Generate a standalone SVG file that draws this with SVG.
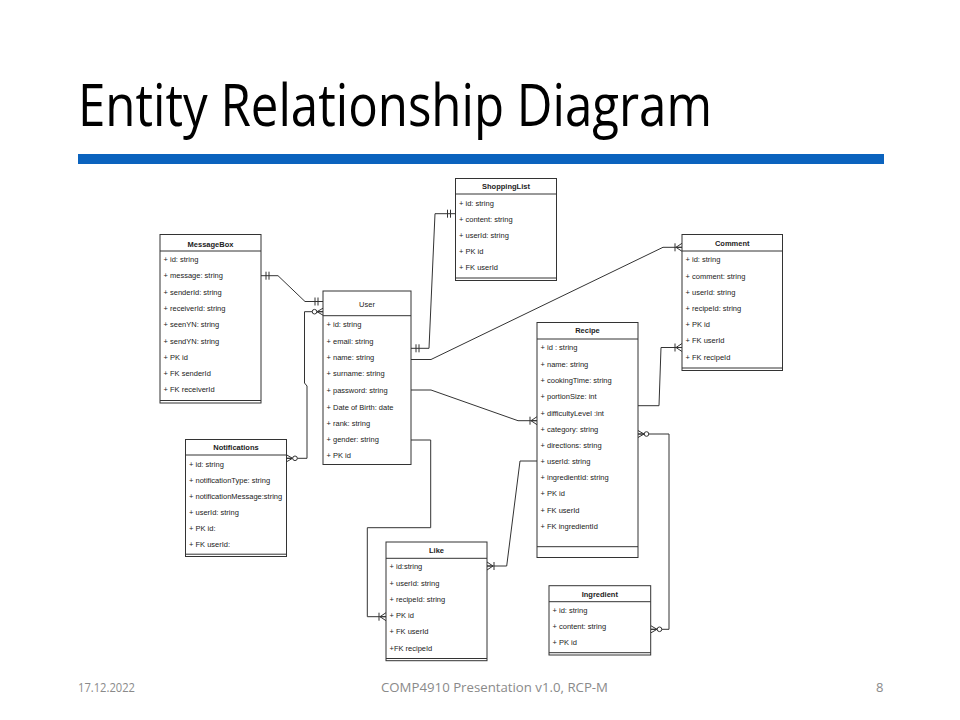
<svg xmlns="http://www.w3.org/2000/svg" width="960" height="720" viewBox="0 0 960 720">
  <style>
    .box { fill: #ffffff; stroke: #333333; stroke-width: 1; }
    .sep { stroke: #333333; stroke-width: 1; fill: none; }
    .ttl { font-family: "Liberation Sans", Arial, sans-serif; font-size: 7.5px; font-weight: bold; fill: #222222; text-anchor: middle; }
    .ttn { font-family: "Liberation Sans", Arial, sans-serif; font-size: 7.5px; fill: #222222; text-anchor: middle; }
    .row { font-family: "Liberation Sans", Arial, sans-serif; font-size: 7.5px; fill: #222222; }
    .edge { fill: none; stroke: #333333; stroke-width: 1; }
    .mk { fill: none; stroke: #333333; stroke-width: 1; }
    .head { font-family: "Open Sans", "Liberation Sans", sans-serif; font-size: 58px; fill: #000000; }
    .foot { font-family: "Open Sans", "Liberation Sans", sans-serif; font-size: 13px; fill: #8a8a8a; }
  </style>
  <defs>
    <!-- mandatory one: two bars -->
    <marker id="mandOne" viewBox="-14 -6 16 12" refX="0" refY="0" markerWidth="16" markerHeight="12" markerUnits="userSpaceOnUse" orient="auto-start-reverse" overflow="visible">
      <path class="mk" d="M-5 -4 V4 M-8 -4 V4"/>
    </marker>
    <!-- one to many: bar + crow's foot -->
    <marker id="oneMany" viewBox="-14 -6 16 12" refX="0" refY="0" markerWidth="16" markerHeight="12" markerUnits="userSpaceOnUse" orient="auto-start-reverse" overflow="visible">
      <path class="mk" d="M0 -4 L-6 0 L0 4 M-6 0 H0 M-7 -4 V4"/>
    </marker>
    <!-- zero to many: circle + crow's foot -->
    <marker id="zeroMany" viewBox="-14 -6 16 12" refX="0" refY="0" markerWidth="16" markerHeight="12" markerUnits="userSpaceOnUse" orient="auto-start-reverse" overflow="visible">
      <path class="mk" d="M0 -3.5 L-6 0 L0 3.5 M-6 0 H0"/>
      <circle cx="-8.5" cy="0" r="2.3" fill="#ffffff" stroke="#333333" stroke-width="1"/>
    </marker>
  </defs>

  <rect width="960" height="720" fill="#ffffff"/>

  <!-- slide heading -->
  <text class="head" x="78" y="126" textLength="634" lengthAdjust="spacingAndGlyphs">Entity Relationship Diagram</text>
  <rect x="78" y="154" width="806" height="10" fill="#0b63be"/>

  <!-- relationships -->
  <g id="connectors">
    <path class="edge" d="M261 275.7 H278 L305 301.5 H323" marker-start="url(#mandOne)" marker-end="url(#mandOne)"/>
    <path class="edge" d="M455.5 213.7 H435 L429 348.3 H411" marker-start="url(#mandOne)" marker-end="url(#mandOne)"/>
    <path class="edge" d="M286.5 458.3 H307 V386 L304.5 383 V311.7 H323" marker-start="url(#zeroMany)" marker-end="url(#zeroMany)"/>
    <path class="edge" d="M411 359.5 H431 L663 247.3 H682" marker-end="url(#oneMany)"/>
    <path class="edge" d="M411 390 H431 L518 420.7 H537" marker-end="url(#oneMany)"/>
    <path class="edge" d="M638 405.7 H659 L661 347.5 H682" marker-end="url(#oneMany)"/>
    <path class="edge" d="M638 434 H669 V629.3 H651" marker-start="url(#zeroMany)" marker-end="url(#zeroMany)"/>
    <path class="edge" d="M411 440 H430.7 V527.7 H367.3 V616.7 H386" marker-end="url(#oneMany)"/>
    <path class="edge" d="M537 461 H520 L506.7 566 H487" marker-end="url(#oneMany)"/>
  </g>

  <!-- MessageBox -->
  <g id="messagebox">
    <rect class="box" x="160" y="234.5" width="101" height="168.5"/>
    <path class="sep" d="M160 251 H261 M160 400.5 H261"/>
    <text class="ttl" x="210.5" y="246.5">MessageBox</text>
    <text class="row" x="163.5" y="262">+ id: string</text>
    <text class="row" x="163.5" y="278.3">+ message: string</text>
    <text class="row" x="163.5" y="294.6">+ senderId: string</text>
    <text class="row" x="163.5" y="311">+ receiverId: string</text>
    <text class="row" x="163.5" y="327.3">+ seenYN: string</text>
    <text class="row" x="163.5" y="343.5">+ sendYN: string</text>
    <text class="row" x="163.5" y="359.7">+ PK id</text>
    <text class="row" x="163.5" y="376">+ FK  senderId</text>
    <text class="row" x="163.5" y="392.3">+ FK receiverId</text>
  </g>

  <!-- ShoppingList -->
  <g id="shoppinglist">
    <rect class="box" x="455.5" y="178.5" width="101" height="102"/>
    <path class="sep" d="M455.5 194 H556.5 M455.5 278 H556.5"/>
    <text class="ttl" x="506" y="188.8">ShoppingList</text>
    <text class="row" x="459" y="206">+ id: string</text>
    <text class="row" x="459" y="222">+ content: string</text>
    <text class="row" x="459" y="238">+ userId: string</text>
    <text class="row" x="459" y="254">+ PK id</text>
    <text class="row" x="459" y="270.3">+ FK userId</text>
  </g>

  <!-- User -->
  <g id="user">
    <rect class="box" x="323" y="291" width="88" height="173.5"/>
    <path class="sep" d="M323 315.7 H411"/>
    <text class="ttn" x="367" y="306.7">User</text>
    <text class="row" x="326.5" y="326.7">+ id: string</text>
    <text class="row" x="326.5" y="343.7">+ email: string</text>
    <text class="row" x="326.5" y="360">+ name: string</text>
    <text class="row" x="326.5" y="376">+ surname: string</text>
    <text class="row" x="326.5" y="393">+ password: string</text>
    <text class="row" x="326.5" y="409.7">+ Date of Birth: date</text>
    <text class="row" x="326.5" y="426">+ rank: string</text>
    <text class="row" x="326.5" y="442.4">+ gender: string</text>
    <text class="row" x="326.5" y="458.4">+ PK id</text>
  </g>

  <!-- Comment -->
  <g id="comment">
    <rect class="box" x="682" y="234.5" width="100.5" height="136"/>
    <path class="sep" d="M682 251 H782.5 M682 368 H782.5"/>
    <text class="ttl" x="732.2" y="246">Comment</text>
    <text class="row" x="685.5" y="261.7">+ id: string</text>
    <text class="row" x="685.5" y="278.7">+ comment: string</text>
    <text class="row" x="685.5" y="295">+ userId: string</text>
    <text class="row" x="685.5" y="310.7">+ recipeId: string</text>
    <text class="row" x="685.5" y="326.7">+ PK  id</text>
    <text class="row" x="685.5" y="343.4">+ FK userId</text>
    <text class="row" x="685.5" y="359.7">+ FK recipeId</text>
  </g>

  <!-- Recipe -->
  <g id="recipe">
    <rect class="box" x="537" y="322.5" width="101" height="235"/>
    <path class="sep" d="M537 339 H638 M537 546.7 H638"/>
    <text class="ttl" x="587.5" y="333.4">Recipe</text>
    <text class="row" x="540.5" y="350.4">+ id : string</text>
    <text class="row" x="540.5" y="367">+ name: string</text>
    <text class="row" x="540.5" y="383.4">+ cookingTime: string</text>
    <text class="row" x="540.5" y="399.4">+ portionSize: int</text>
    <text class="row" x="540.5" y="415.7">+ difficultyLevel :int</text>
    <text class="row" x="540.5" y="431.7">+ category: string</text>
    <text class="row" x="540.5" y="447.7">+ directions: string</text>
    <text class="row" x="540.5" y="463.7">+ userId: string</text>
    <text class="row" x="540.5" y="480">+ ingredientId: string</text>
    <text class="row" x="540.5" y="496">+ PK id</text>
    <text class="row" x="540.5" y="512.7">+ FK userId</text>
    <text class="row" x="540.5" y="528.7">+ FK ingredientId</text>
  </g>

  <!-- Notifications -->
  <g id="notifications">
    <rect class="box" x="185.5" y="439.5" width="101" height="117"/>
    <path class="sep" d="M185.5 455 H286.5 M185.5 554.2 H286.5"/>
    <text class="ttl" x="236" y="450">Notifications</text>
    <text class="row" x="189" y="466.7">+ id: string</text>
    <text class="row" x="189" y="482.7">+ notificationType: string</text>
    <text class="row" x="189" y="498.7">+ notificationMessage:string</text>
    <text class="row" x="189" y="515">+ userId: string</text>
    <text class="row" x="189" y="531.4">+ PK id:</text>
    <text class="row" x="189" y="547.4">+ FK userId:</text>
  </g>

  <!-- Like -->
  <g id="like">
    <rect class="box" x="386" y="542" width="101" height="118.7"/>
    <path class="sep" d="M386 558.3 H487 M386 658.5 H487"/>
    <text class="ttl" x="436.5" y="552.7">Like</text>
    <text class="row" x="389.5" y="569">+ id:string</text>
    <text class="row" x="389.5" y="585.7">+ userId: string</text>
    <text class="row" x="389.5" y="602">+ recipeId: string</text>
    <text class="row" x="389.5" y="618">+ PK id</text>
    <text class="row" x="389.5" y="634">+ FK userId</text>
    <text class="row" x="389.5" y="650.7">+FK recipeId</text>
  </g>

  <!-- Ingredient -->
  <g id="ingredient">
    <rect class="box" x="549" y="585.7" width="101.7" height="69.3"/>
    <path class="sep" d="M549 601.7 H650.7 M549 652.7 H650.7"/>
    <text class="ttl" x="599.8" y="596.7">Ingredient</text>
    <text class="row" x="552.5" y="613.4">+ id: string</text>
    <text class="row" x="552.5" y="629.4">+ content: string</text>
    <text class="row" x="552.5" y="645.4">+ PK id</text>
  </g>

  <!-- footer -->
  <text class="foot" x="78" y="692" textLength="57" lengthAdjust="spacingAndGlyphs">17.12.2022</text>
  <text class="foot" x="381" y="692" textLength="227" lengthAdjust="spacingAndGlyphs">COMP4910 Presentation v1.0, RCP-M</text>
  <text class="foot" x="876" y="692">8</text>
</svg>
